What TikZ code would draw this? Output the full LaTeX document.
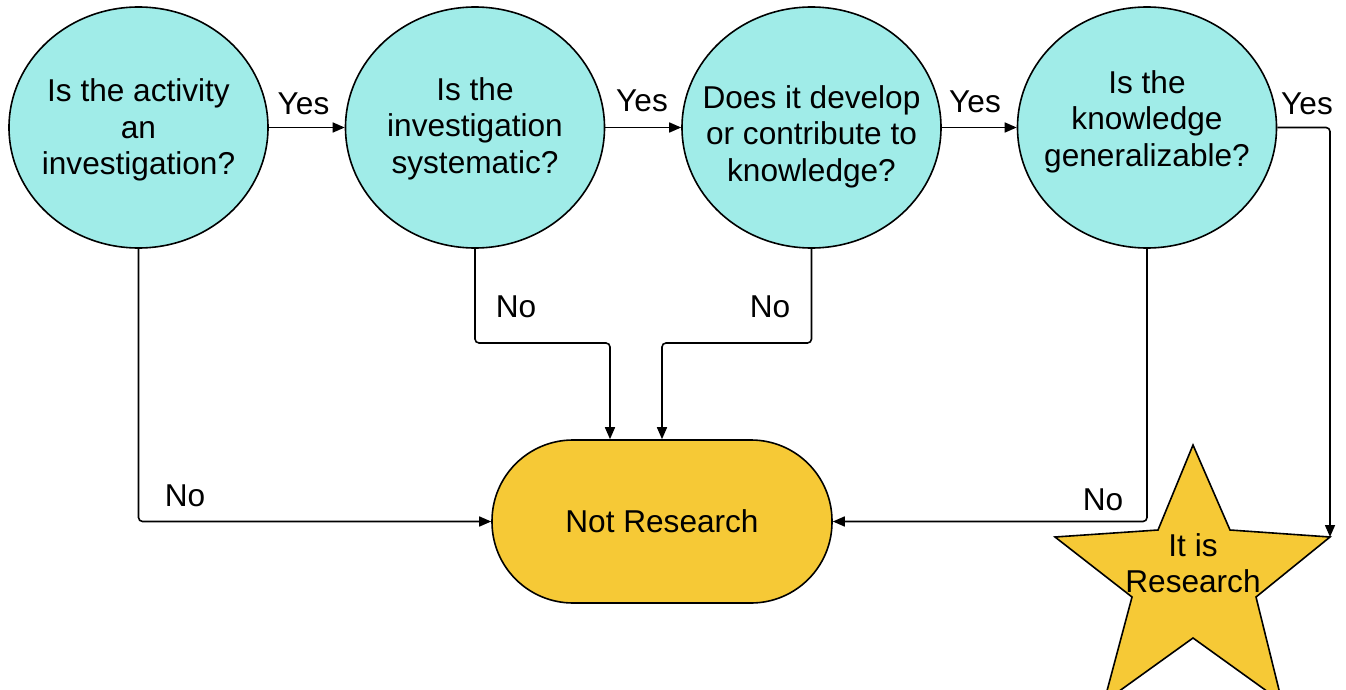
\documentclass[tikz,border=0pt]{standalone}
\usepackage{fontspec}
\setmainfont{Liberation Sans}
\usetikzlibrary{shapes.geometric,arrows.meta}
\definecolor{qcyan}{HTML}{A0ECE8}
\definecolor{ryellow}{HTML}{F6C936}
\begin{document}
\begin{tikzpicture}[x=1pt,y=-1pt,
  question/.style={ellipse,draw=black,line width=1.6pt,fill=qcyan,minimum width=259pt,minimum height=241pt,inner sep=0pt},
  qtext/.style={align=center,font=\fontsize{31.6}{36.5}\selectfont,inner sep=0pt},
  lbl/.style={font=\fontsize{31.6}{36.5}\selectfont,inner sep=0pt},
  conn/.style={line width=1.6pt,rounded corners=4pt,-{Triangle[length=12pt,width=10pt]}},
  terminal/.style={rectangle,rounded corners=81pt,draw=black,line width=1.6pt,fill=ryellow,minimum width=340pt,minimum height=163pt,inner sep=0pt,font=\fontsize{31.6}{36.5}\selectfont},
  starshape/.style={draw=black,fill=ryellow,line width=1.6pt,line join=miter}]
\useasboundingbox (0,0) rectangle (1346,690);

% question circles
\node[question] (q1) at (138.5,127.5) {};
\node[question] (q2) at (475,127.5) {};
\node[question] (q3) at (811.5,127.5) {};
\node[question] (q4) at (1147,127.5) {};
\node[qtext] (t1) at (138.5,130) {Is the activity\\an\\investigation?};
\node[qtext] (t2) at (475,128.5) {Is the\\investigation\\systematic?};
\node[qtext] (t3) at (811.5,136.5) {Does it develop\\or contribute to\\knowledge?};
\node[qtext] (t4) at (1147,121.5) {Is the\\knowledge\\generalizable?};

% terminal
\node[terminal] (nr) at (662,521.5) {Not Research};

% star
\begin{scope}
\clip (0,0) rectangle (1346,690);
\coordinate (sT) at (1193,445);
\coordinate (sIL) at (1158,530);
\coordinate (sL) at (1055,537);
\coordinate (sILL) at (1132,597);
\coordinate (sBL) at (1104,702);
\coordinate (sIB) at (1193,638);
\coordinate (sBR) at (1282,702);
\coordinate (sIRR) at (1256,597);
\coordinate (sR) at (1330,537);
\coordinate (sIR) at (1230,530);
\draw[starshape] (sT) -- (sIL) -- (sL) -- (sILL) -- (sBL) -- (sIB) -- (sBR) -- (sIRR) -- (sR) -- (sIR) -- cycle;
\end{scope}
\node[qtext] (st) at (1193,563) {It is\\Research};

% connectors
\coordinate (mid) at (0,343);
\coordinate (nrA) at ([xshift=-52pt]nr.north);
\draw[conn] (q1.east) -- (q2.west);
\draw[conn] (q2.east) -- (q3.west);
\draw[conn] (q3.east) -- (q4.west);
\draw[conn] (q4.east) -- (q4.east -| sR) -- (sR);
\draw[conn] (q1.south) -- (q1.south |- nr.west) -- (nr.west);
\draw[conn] (q2.south) -- (q2.south |- mid) -- (nrA |- mid) -- (nrA);
\draw[conn] (q3.south) -- (q3.south |- mid) -- (nr.north |- mid) -- (nr.north);
\draw[conn] (q4.south) -- (q4.south |- nr.east) -- (nr.east);

% labels
\node[lbl] (y1) at (303.5,104) {Yes};
\node[lbl] (y2) at (642,101) {Yes};
\node[lbl] (y3) at (975,102) {Yes};
\node[lbl] (y4) at (1307,104) {Yes};
\node[lbl] (n1) at (185,496) {No};
\node[lbl] (n2) at (516,307) {No};
\node[lbl] (n3) at (770,307) {No};
\node[lbl] (n4) at (1103,500) {No};
\end{tikzpicture}
\end{document}
